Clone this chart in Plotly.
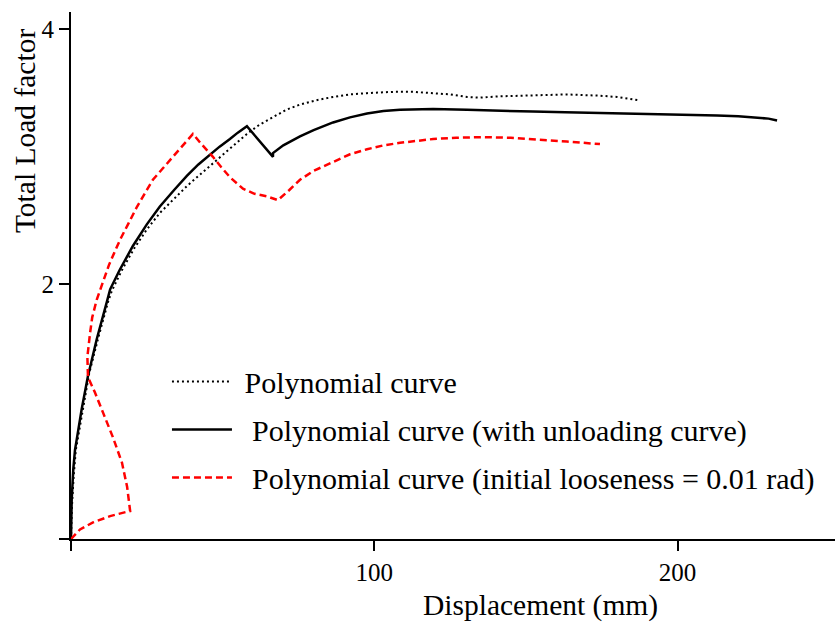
import plotly.graph_objects as go

# Polynomial curve (dotted)
poly_x = [0, 0.3, 0.9, 1.6, 3.8, 6, 9, 12.2, 13.5, 17, 20.8, 25, 29.3, 34, 38.2, 42.5, 46.8,
          52, 58, 62, 66.6, 71, 75.5, 81, 86.4, 92, 97.6, 106.2, 113, 119.4, 125, 130.6,
          134.9, 141.5, 152.3, 163.6, 174.4, 180, 186.9]
poly_y = [0, 0.25, 0.5, 0.7, 1.0, 1.3, 1.58, 1.86, 1.95, 2.12, 2.28, 2.43, 2.56, 2.67, 2.77,
          2.86, 2.95, 3.06, 3.18, 3.25, 3.31, 3.37, 3.41, 3.445, 3.47, 3.49, 3.50, 3.51, 3.51,
          3.50, 3.49, 3.47, 3.465, 3.475, 3.485, 3.49, 3.48, 3.47, 3.445]

# Polynomial curve (with unloading curve) (solid)
unload_x = [0, 0.23, 0.76, 1.32, 1.88, 3.53, 5.6, 8.5, 11.8, 12.9, 16, 20.4, 25, 29.3, 34, 38.2,
            42, 45.8, 49, 52.4, 55, 58.0, 66.6, 66.6, 70, 75.5, 80, 86.4, 92, 97.6, 103, 108.5,
            119.4, 130.6, 141, 152.3, 163, 174.4, 190.9, 202, 213, 220, 226, 230, 232.8]
unload_y = [0, 0.31, 0.55, 0.70, 0.78, 1.02, 1.28, 1.57, 1.86, 1.96, 2.11, 2.30, 2.47, 2.61, 2.74,
            2.85, 2.94, 3.02, 3.08, 3.14, 3.19, 3.24, 3.00, 3.03, 3.09, 3.16, 3.21, 3.27, 3.31,
            3.34, 3.36, 3.37, 3.375, 3.37, 3.36, 3.355, 3.35, 3.345, 3.34, 3.335, 3.325, 3.318,
            3.31, 3.30, 3.285]

# Polynomial curve (initial looseness = 0.01 rad) (red dashed)
loose_x = [0, 2.97, 7.25, 12.9, 19.5, 18.5, 16.8, 13.8, 10.6, 7.9, 5.6, 5.4, 6.3, 7.0, 8.5, 10.2,
           12.5, 14.5, 16.2, 19, 21.8, 24.5, 27.0, 30.3, 33.6, 37, 40.2, 43, 46.8, 49.5, 52.4,
           56.7, 60.5, 64.6, 68.2, 72, 75.5, 80, 86.4, 92, 97.6, 103, 108.5, 119.4, 127, 135.8,
           145, 152.3, 163.5, 174.4]
loose_y = [0, 0.075, 0.13, 0.18, 0.22, 0.41, 0.60, 0.80, 0.99, 1.15, 1.27, 1.43, 1.62, 1.74,
           1.88, 2.0, 2.15, 2.26, 2.35, 2.48, 2.61, 2.72, 2.82, 2.91, 3.00, 3.09, 3.18, 3.10,
           3.00, 2.92, 2.84, 2.75, 2.71, 2.69, 2.66, 2.74, 2.82, 2.89, 2.96, 3.02, 3.06, 3.09,
           3.11, 3.14, 3.15, 3.155, 3.15, 3.14, 3.12, 3.10]

names = ["\u00a0Polynomial curve",
         "\u00a0\u00a0Polynomial curve (with unloading curve)",
         "\u00a0\u00a0Polynomial curve (initial looseness = 0.01 rad)"]

x_ticks = [0, 100, 200]
x_labels = ["", "100", "200"]
y_ticks = [0, 2, 4]
y_labels = ["", "2", "4"]

FONT = "Liberation Serif, Times New Roman, serif"

fig = go.Figure()
fig.add_trace(go.Scatter(x=poly_x, y=poly_y, mode="lines", name=names[0], legendgroup="a",
                         line=dict(color="black", width=2, dash="2px,3px")))
fig.add_trace(go.Scatter(x=unload_x, y=unload_y, mode="lines", name=names[1], legendgroup="b",
                         line=dict(color="black", width=2.5)))
fig.add_trace(go.Scatter(x=loose_x, y=loose_y, mode="lines", name=names[2], legendgroup="c",
                         line=dict(color="#ff0000", width=2.5, dash="7px,4px")))

fig.update_layout(
    width=835, height=622,
    margin=dict(l=71, r=0, t=12, b=83),
    paper_bgcolor="white", plot_bgcolor="white",
    font=dict(family=FONT, color="black", size=25),
    showlegend=True,
    legend=dict(x=0.1256, y=0.348, xanchor="left", yanchor="top",
                font=dict(family=FONT, size=30, color="black"),
                bgcolor="rgba(0,0,0,0)", tracegroupgap=6, itemwidth=60),
    xaxis=dict(range=[0, 251.9], showline=True, linewidth=2, linecolor="black",
               ticks="outside", ticklen=10, tickwidth=2, tickcolor="black",
               tickvals=x_ticks, ticktext=x_labels, showgrid=False, zeroline=False,
               tickfont=dict(family=FONT, size=25)),
    yaxis=dict(range=[0, 4.137], showline=True, linewidth=2, linecolor="black",
               ticks="outside", ticklen=10, tickwidth=2, tickcolor="black",
               tickvals=y_ticks, ticktext=y_labels, showgrid=False, zeroline=False,
               tickfont=dict(family=FONT, size=25)),
    annotations=[
        dict(text="Displacement (mm)", xref="paper", yref="paper", x=0.615, y=-0.127,
             xanchor="center", yanchor="middle", showarrow=False,
             font=dict(family=FONT, size=29.5)),
        dict(text="Total Load factor", xref="paper", yref="paper", x=-0.0602, y=0.774,
             xanchor="center", yanchor="middle", showarrow=False, textangle=-90,
             font=dict(family=FONT, size=29.5)),
    ],
)

fig.write_html("out.html")
